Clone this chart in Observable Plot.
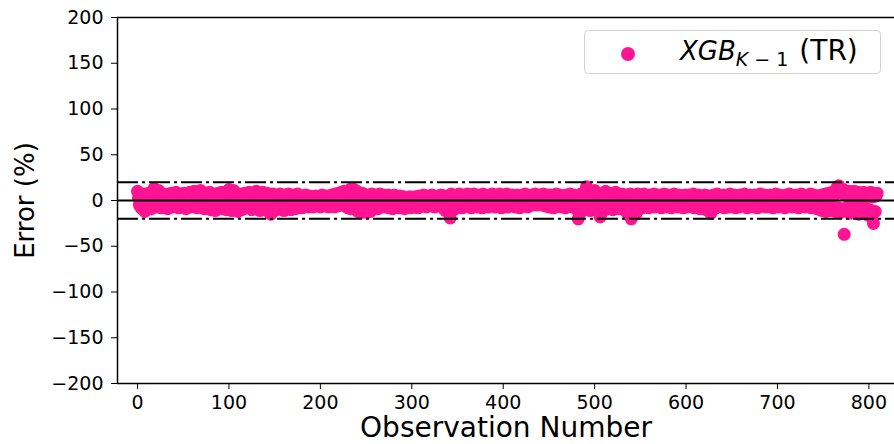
<!DOCTYPE html>
<html>
<head>
<meta charset="utf-8">
<script src="https://cdn.jsdelivr.net/npm/d3@7"></script>
<script src="https://cdn.jsdelivr.net/npm/@observablehq/plot@0.6"></script>
<style>
  html, body { margin: 0; padding: 0; background: #fff; }
  #wrap { position: relative; width: 894px; height: 444px; }
  #legend { position: absolute; left: 584px; top: 30px; width: 297px; height: 44px; box-sizing: border-box;
            border: 1px solid #d3d3d3; border-radius: 4px; background: rgba(255,255,255,0.85);
            font-family: "DejaVu Sans", sans-serif; color: #000; }
  #legend .mk { position: absolute; left: 36px; top: 16px; width: 14px; height: 14px; border-radius: 50%; background: #ff1493; }
  #legend .lbl { position: absolute; left: 95px; top: 2px; font-size: 26px; line-height: 36px; white-space: nowrap; }
  #legend sub { font-size: 19px; vertical-align: -6px; line-height: 0; }
  #legend .tr { font-size: 28px; margin-left: 11px; }
</style>
</head>
<body>
<div id="wrap"></div>
<script>
const errors = [
  10, 3, -5, 6, -8, 2, -3, 7, -12, 4, -6, 1, 8, -4, 5, -9, 3, 9, 13, -2, 6, -7, 2, 11, -5, 4, -8, 3, 7, -3,
  -6, 5, 2, -9, 7, -4, 3, 8, -7, 1, 6, -5, 9, -2, 4, -8, 2, 7, -6, 3, -3, 8, 5, -9, 1, 6, -4, 9, -7, 2,
  4, -5, 10, -3, 7, -8, 2, 9, -6, 11, 3, -4, 6, -9, 1, 8, -7, 5, -2, 9, -10, 4, 7, -5, 2, -11, 6, -3, 8, -8,
  3, -6, 9, -9, 5, -4, 7, -10, 2, 10, 12, -7, 8, -11, 4, 11, -5, 6, -9, 3, -12, 7, -6, 2, -10, 5, -3, 8, -8, 1,
  6, -8, 9, -5, 3, -10, 8, -2, 5, -9, 10, -6, 2, 7, -11, 4, -7, 9, -3, 6, -9, 1, 8, -12, 5, -6, -15, 3, 7, -8,
  -4, 6, -10, 2, 5, -7, 7, -9, 1, 4, -11, 6, -5, 3, -8, 7, -2, 5, -10, 2, 6, -6, 4, -9, 1, 7, -7, 3, -4, 5,
  -8, 4, 2, -6, 6, -3, 3, -7, 5, -5, 1, 4, -7, 3, -2, 5, -6, 2, -4, 4, -7, 1, 6, -5, 3, -6, 2, 5, -3, -7,
  4, -5, 6, -2, 3, -7, 7, -4, 5, -6, 8, 2, -5, 9, -3, 6, 10, -6, 8, 4, -8, 11, 7, -9, 13, 9, -7, 12, 5, -10,
  10, -12, 7, -8, 4, -13, 8, -6, 3, -11, 6, -13, 5, -9, 2, -12, 7, -5, 4, -8, 6, -3, 5, -9, 1, 7, -6, 3, -4, 6,
  -7, 5, 2, -5, 6, -8, 3, -4, 5, -9, 1, 6, -6, 4, -3, 2, -8, 5, -5, 3, -2, 4, -9, 1, 3, -6, 2, -4, 4, -8,
  3, -5, 2, -7, 4, -3, 1, -8, 5, -4, 3, -6, 2, 6, -5, 4, -7, 1, 5, -3, 3, -6, 6, -4, 2, -7, 4, -2, 5, -5,
  -6, 3, 6, -4, 2, -9, 5, -11, 4, -8, 1, -12, -19, 7, -6, 3, -10, 5, -4, 6, -7, 2, 7, -5, 4, -8, 3, 6, -3, 5,
  -6, 7, 2, -4, 6, -8, 4, -3, 7, -6, 1, 5, -7, 3, 6, -5, 2, -8, 7, -2, 4, -6, 5, 3, -7, 6, -4, 2, 7, -5,
  3, -7, 6, -3, 5, -6, 7, 1, -8, 4, -4, 6, -5, 2, 7, -7, 3, -3, 5, -6, 6, -2, 4, -7, 2, 6, -5, 3, -8, 5,
  -4, 6, 2, -6, 7, -3, 4, -7, 5, 1, -5, 6, -3, 4, -4, 7, 2, -5, 5, -2, 6, -4, 3, -5, 7, 1, -6, 4, -3, 6,
  -7, 3, 6, -5, 2, -8, 5, -3, 7, -6, 4, -2, 6, -7, 3, 5, -5, 2, -8, 6, -4, 4, -6, 7, 1, -7, 5, -3, 6, -8,
  3, -10, -20, 5, -14, 7, -6, 4, -9, 8, -5, 15, -7, 10, 3, -11, 6, -8, 9, 2, 11, -6, 8, -10, 4, -13, -18, 7, -9, -12,
  6, -8, 10, -5, 4, -9, 8, 2, -6, 7, -10, 5, -4, 9, -7, 3, 6, -9, 4, -5, 7, -8, 2, 5, -11, 6, -14, 3, -10, 7,
  -20, -13, 4, -8, 6, -15, 3, 7, -6, 5, -9, 2, 6, -4, 7, -7, 3, -3, 5, -8, 6, 1, -6, 4, -5, 7, -7, 2, 5, -4,
  6, -6, 3, -8, 5, -2, 7, -5, 4, -7, 2, 6, -4, 5, -8, 3, -3, 7, -6, 4, 1, -7, 6, -5, 3, -4, 5, -8, 2, 6,
  -5, 4, -7, 6, -3, 5, -6, 2, 7, -8, 3, -4, 5, -6, 6, -9, 2, 4, -7, 5, -3, 6, -10, 3, -8, 5, -11, -14, 4, -6,
  6, -9, 3, -5, 7, -7, 2, 5, -6, 4, -3, 6, -8, 3, 5, -5, 2, -7, 7, -4, 4, -6, 1, 6, -8, 3, -3, 5, -7, 6,
  -4, 4, -6, 2, 7, -5, 3, -8, 5, -3, 6, -6, 2, 4, -7, 6, -2, 3, -8, 5, -5, 7, 1, -6, 4, -4, 6, -7, 3, 5,
  -6, 2, 6, -4, 5, -8, 3, -5, 7, -3, 4, -7, 6, 1, -6, 5, -4, 3, -8, 6, -2, 4, -6, 7, -5, 3, -7, 5, 2, -4,
  6, -6, 3, -8, 5, -3, 7, -5, 2, 6, -7, 4, -4, 5, -6, 3, 7, -8, 2, -5, 6, -4, 4, -9, 5, -6, 3, -10, 6, -11,
  4, -9, 7, -12, 5, -7, 8, -11, 3, -6, 9, -10, 6, -12, 10, 14, -8, 16, 11, -13, 8, -9, 12, -37, 6, -11, 9, -7, 10, -14,
  7, -10, 8, -5, 10, -12, 6, -8, 9, -15, 4, -9, 7, -13, 9, -6, 5, -11, 8, -16, 6, -10, 9, -18, 4, -25, 7, -12, 5, 8
];
const xTicks = [0, 100, 200, 300, 400, 500, 600, 700, 800];
const yTicks = [-200, -150, -100, -50, 0, 50, 100, 150, 200];
const xDomain = [-21.9, 828];
const yDomain = [-200, 200];
const zeroLine = [0];
const bandLines = [-20, 20];
const xLabel = "Observation Number";
const yLabel = "Error (%)";

const data = errors.map((e, i) => ({obs: i, err: e}));

const chart = Plot.plot({
  width: 894, height: 444,
  marginLeft: 117, marginRight: 0, marginTop: 17, marginBottom: 61,
  style: {fontFamily: "DejaVu Sans, sans-serif", fontSize: "19px", color: "#000", background: "#fff", overflow: "visible"},
  x: {domain: xDomain, ticks: xTicks, tickSize: 6, tickPadding: 6, label: null},
  y: {domain: yDomain, ticks: yTicks, tickSize: 6, tickPadding: 8, label: null,
      tickFormat: d => String(d).replace("-", "\u2212")},
  marks: [
    Plot.dot(data, {x: "obs", y: "err", r: 6.5, fill: "#ff1493", stroke: null}),
    Plot.ruleY(zeroLine, {stroke: "#000", strokeWidth: 2}),
    Plot.ruleY(bandLines, {stroke: "#000", strokeWidth: 2, strokeDasharray: "21,4,3,4"}),
    Plot.ruleX([xDomain[0]], {stroke: "#000", strokeWidth: 1.5}),
    Plot.ruleY(yDomain, {stroke: "#000", strokeWidth: 1.5}),
    Plot.text([xLabel], {frameAnchor: "bottom", dy: 45, text: d => d, fontSize: 28, fill: "#000",
                         textAnchor: "middle", lineAnchor: "middle"}),
    Plot.text([yLabel], {frameAnchor: "left", dx: -92, rotate: -90, text: d => d, fontSize: 26, fill: "#000",
                         textAnchor: "middle", lineAnchor: "middle"})
  ]
});
const wrap = document.getElementById("wrap");
wrap.appendChild(chart);
const legend = document.createElement("div");
legend.id = "legend";
legend.innerHTML = '<span class="mk"></span><span class="lbl"><i>XGB</i><sub><i>K</i> \u2212 1</sub><span class="tr">(TR)</span></span>';
wrap.appendChild(legend);
</script>
</body>
</html>
